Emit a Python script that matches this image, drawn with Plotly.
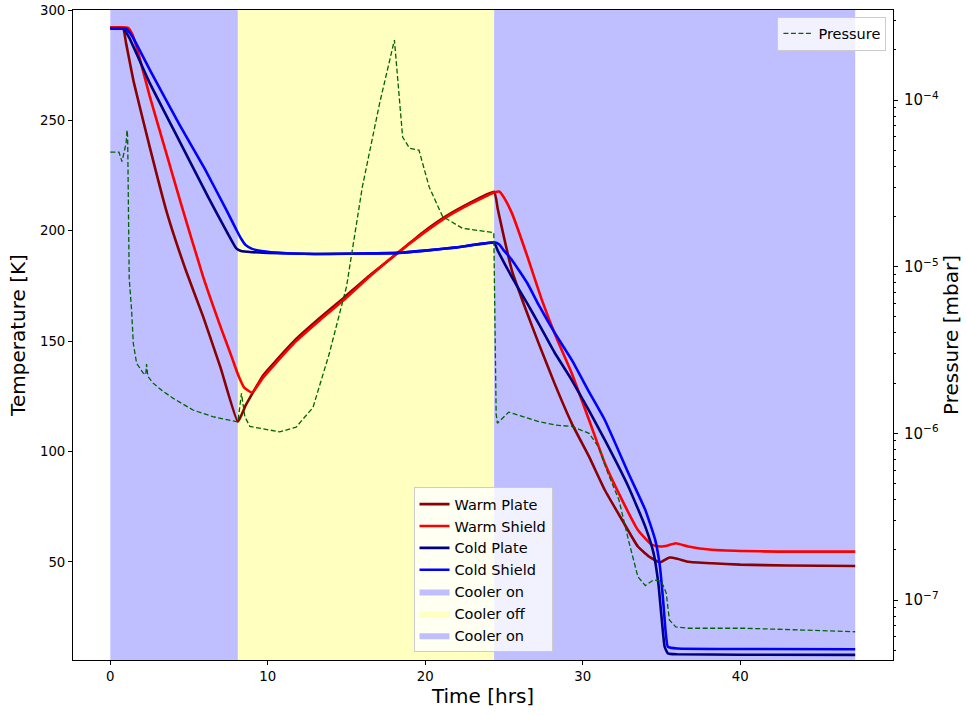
import plotly.graph_objects as go

# ---------------- data ----------------
warm_plate_t = [0, 0.8, 1.0, 1.5, 2.5, 3.6, 4.8, 5.9, 7.0, 8.1, 8.6, 9.2, 9.7, 10.5, 11.8, 13.3, 14.8,
                16.5, 18.25, 19.8, 21.3, 22.8, 24.37, 24.6, 25.0, 25.5, 26.4, 27.2, 28.2, 29.3, 30.4,
                31.4, 32.5, 33.5, 34.2, 34.9, 35.5, 36.0, 36.7, 38.2, 40, 43, 47.3]
warm_plate_T = [292, 292, 285, 267, 238, 208, 182, 161, 138, 113.5, 121, 128.5, 134.5, 141, 151, 160.5, 169.5,
                180, 190, 199, 206.5, 212.5, 217.7, 210, 197, 182, 164, 149, 131, 112.8, 97.7,
                82.6, 69, 57, 52.5, 49.8, 52, 51.5, 50.1, 49.4, 48.8, 48.4, 48.2]

warm_shield_t = [0, 1.1, 1.4, 1.7, 2.5, 3.6, 4.5, 5.9, 7.0, 7.7, 8.1, 8.5, 9.0, 9.7, 10.5, 11.8, 13.3,
                 14.8, 16.5, 18.25, 19.8, 21.3, 22.8, 24.37, 24.7, 25.0, 25.5, 26.5, 27.4, 28.3, 29.3,
                 30.4, 31.4, 32.5, 33.5, 34.4, 35.0, 35.4, 35.9, 36.7, 38.2, 40, 42.4, 47.3]
warm_shield_T = [292, 292, 289, 282.5, 261, 234, 212, 179, 156.5, 143, 135, 129, 126.7, 133.5, 140, 150, 159.5,
                 168.5, 179.5, 190, 198.5, 206, 212, 217.3, 217.8, 215, 208, 188, 168.7, 152, 135.5,
                 114.3, 94.7, 78, 64.5, 57.7, 57, 57.5, 58.5, 57, 55.5, 55, 54.7, 54.7]

cold_plate_t = [0, 0.84, 1.2, 2.5, 4.4, 6.2, 7.4, 8.0, 8.3, 9.0, 10.0, 13.0, 16.0, 18.25, 20.0, 22.0,
                24.37, 24.6, 25.5, 26.4, 27.2, 28.2, 29.3, 30.4, 31.4, 32.9, 33.97, 34.5, 34.8, 35.0,
                35.2, 35.4, 36.0, 40, 47.3]
cold_plate_T = [291.5, 291.5, 287.5, 267, 240.5, 215.5, 199.5, 192, 190.8, 190.3, 190, 189.5, 189.7, 190, 191, 192.5,
                194.5, 191, 179, 168, 158, 145, 132.4, 118.5, 105.3, 84.1, 66, 53.9, 40.3, 25.2,
                11.6, 8.6, 8.2, 8.0, 7.9]

cold_shield_t = [0, 1.0, 1.4, 2.5, 4.4, 6.0, 7.4, 8.0, 8.3, 8.6, 9.0, 9.6, 10.2, 13.0, 16.0, 18.25, 20.0,
                 22.0, 24.37, 24.7, 25.0, 25.5, 26.5, 27.2, 28.2, 29.3, 30.4, 31.4, 32.9, 33.97, 34.6,
                 34.9, 35.1, 35.27, 35.4, 36.0, 40, 47.3]
cold_shield_T = [291.5, 291.5, 288, 273, 248, 228, 209, 200.5, 196.5, 193.5, 191.8, 190.8, 190.3, 189.5, 189.7, 190, 191,
                 192.5, 194.8, 193.8, 191, 186.8, 176, 166.4, 154, 141.5, 127, 114.3, 90.2, 73.6, 60,
                 47.9, 32.8, 17.7, 11.6, 10.8, 10.6, 10.5]

pressure_t = [0, 0.55, 0.74, 0.85, 1.0, 1.06, 1.1, 1.2, 1.35, 1.46, 1.67, 2.09, 2.25, 2.3, 2.38, 2.72, 3.3,
              4.0, 4.5, 5.25, 6.5, 8.1, 8.33, 8.54, 8.86, 10.1, 10.76, 11.8, 12.87, 13.9, 14.5, 15.0, 16.0,
              17.1, 18.04, 18.56, 19.0, 19.6, 20.25, 21.1, 22.36, 24.26, 24.35, 24.5, 24.58, 25.3, 26.6,
              27.2, 28.3, 29.3, 30.4, 31.0, 31.6, 32.3, 32.9, 33.5, 33.97, 34.5, 35.0, 35.3, 35.5, 35.9,
              36.7, 40.3, 44, 47.3]
pressure_mbar = [4.87e-5, 4.87e-5, 4.27e-5, 4.8e-5, 5.5e-5, 6.6e-5, 6.0e-5, 8.5e-6, 5.5e-6, 3.46e-6, 2.63e-6,
                 2.3e-6, 2.25e-6, 2.6e-6, 2.2e-6, 2.0e-6, 1.8e-6,
                 1.62e-6, 1.52e-6, 1.38e-6, 1.26e-6, 1.17e-6, 1.74e-6, 1.26e-6, 1.1e-6, 1.05e-6, 1.02e-6,
                 1.09e-6, 1.43e-6, 3.0e-6, 5.0e-6, 7.6e-6, 3.0e-5,
                 9.55e-5, 2.29e-4, 6.0e-5, 5.13e-5, 5.0e-5, 3.0e-5, 2.0e-5, 1.7e-5, 1.62e-5, 1.6e-5, 1.3e-6,
                 1.15e-6, 1.34e-6, 1.23e-6,
                 1.175e-6, 1.12e-6, 1.1e-6, 1.0e-6, 8.3e-7, 5.76e-7, 3.98e-7, 2.29e-7, 1.38e-7, 1.22e-7,
                 1.32e-7, 1.29e-7, 1.1e-7, 7.6e-8, 6.9e-8,
                 6.77e-8, 6.77e-8, 6.6e-8, 6.45e-8]

period_start = [0, 8.1, 24.37]
period_end = [8.1, 24.37, 47.3]
period_label = ["Cooler on", "Cooler off", "Cooler on"]
period_color = ["rgb(191,191,255)", "rgb(255,255,191)", "rgb(191,191,255)"]

series_names = ["Warm Plate", "Warm Shield", "Cold Plate", "Cold Shield"]
series_colors = ["#8B0000", "#FF0000", "#000080", "#0000FF"]

temp_ticks = [50, 100, 150, 200, 250, 300]
time_ticks = [0, 10, 20, 30, 40]
pressure_ticks = [1e-7, 1e-6, 1e-5, 1e-4]
pressure_ticktext = ["10<sup>−7</sup>", "10<sup>−6</sup>", "10<sup>−5</sup>", "10<sup>−4</sup>"]
pressure_minor_ticks = [m * 10.0 ** e for e in range(-8, -3) for m in range(2, 10)]

T_LO, T_HI = 5.6, 300
X_LO, X_HI = -2.37, 49.7
LOGP_LO, LOGP_HI = -7.36, -3.46

FONT = "DejaVu Sans"

# ---------------- figure ----------------
fig = go.Figure()

for i, (s, e, lab, col) in enumerate(zip(period_start, period_end, period_label, period_color)):
    fig.add_trace(go.Scatter(
        x=[s, e, e, s, s], y=[T_LO, T_LO, T_HI, T_HI, T_LO],
        fill="toself", fillcolor=col, mode="lines", line=dict(width=0, color=col),
        name=lab, legend="legend", legendrank=10 + i, hoverinfo="skip"))

for i, (nm, col, tt, TT) in enumerate(zip(series_names, series_colors,
                                            [warm_plate_t, warm_shield_t, cold_plate_t, cold_shield_t],
                                            [warm_plate_T, warm_shield_T, cold_plate_T, cold_shield_T])):
    fig.add_trace(go.Scatter(
        x=tt, y=TT, mode="lines", name=nm,
        line=dict(color=col, width=2.6, shape="spline", smoothing=0.4),
        legend="legend", legendrank=1 + i))

fig.add_trace(go.Scatter(
    x=pressure_t, y=pressure_mbar, mode="lines", name="Pressure", yaxis="y2",
    line=dict(color="#006400", width=1.3, dash="5px,2.5px"),
    legend="legend2"))

axis_common = dict(showline=True, linecolor="black", linewidth=1, ticks="outside", ticklen=4,
                   tickwidth=1, tickcolor="black", showgrid=False, zeroline=False, automargin=False)
tick_font = dict(family=FONT, size=13.3, color="black")

fig.update_layout(
    width=966, height=715,
    margin=dict(l=73, r=73, t=10, b=55, autoexpand=False),
    paper_bgcolor="white", plot_bgcolor="white",
    font=dict(family=FONT, color="black"),
    xaxis=dict(range=[X_LO, X_HI], tickvals=time_ticks, mirror=True, tickfont=tick_font,
               title=dict(text="Time [hrs]", font=dict(family=FONT, size=20), standoff=6),
               **axis_common),
    yaxis=dict(range=[T_LO, T_HI], tickvals=temp_ticks, tickfont=tick_font,
               title=dict(text="Temperature [K]", font=dict(family=FONT, size=20), standoff=8),
               **axis_common),
    yaxis2=dict(overlaying="y", side="right", type="log", range=[LOGP_LO, LOGP_HI],
                tickvals=pressure_ticks, ticktext=pressure_ticktext,
                tickfont=dict(family=FONT, size=15, color="black"), ticklabelstandoff=3,
                minor=dict(tickmode="array", tickvals=pressure_minor_ticks, ticks="outside",
                           ticklen=2.2, tickwidth=0.8, tickcolor="black", showgrid=False),
                title=dict(text="Pressure [mbar]", font=dict(family=FONT, size=20), standoff=4),
                **axis_common),
    legend=dict(x=0.5, y=0.012, xanchor="center", yanchor="bottom",
                bgcolor="rgba(255,255,255,0.8)", bordercolor="#cccccc", borderwidth=1,
                font=dict(family=FONT, size=14.5), traceorder="normal"),
    legend2=dict(x=0.992, y=0.99, xanchor="right", yanchor="top",
                 bgcolor="rgba(255,255,255,0.8)", bordercolor="#cccccc", borderwidth=1,
                 font=dict(family=FONT, size=14.5)),
    showlegend=True,
)

fig.write_html("out.html", config={"displayModeBar": False},
               post_script="document.body.style.margin='0';")
